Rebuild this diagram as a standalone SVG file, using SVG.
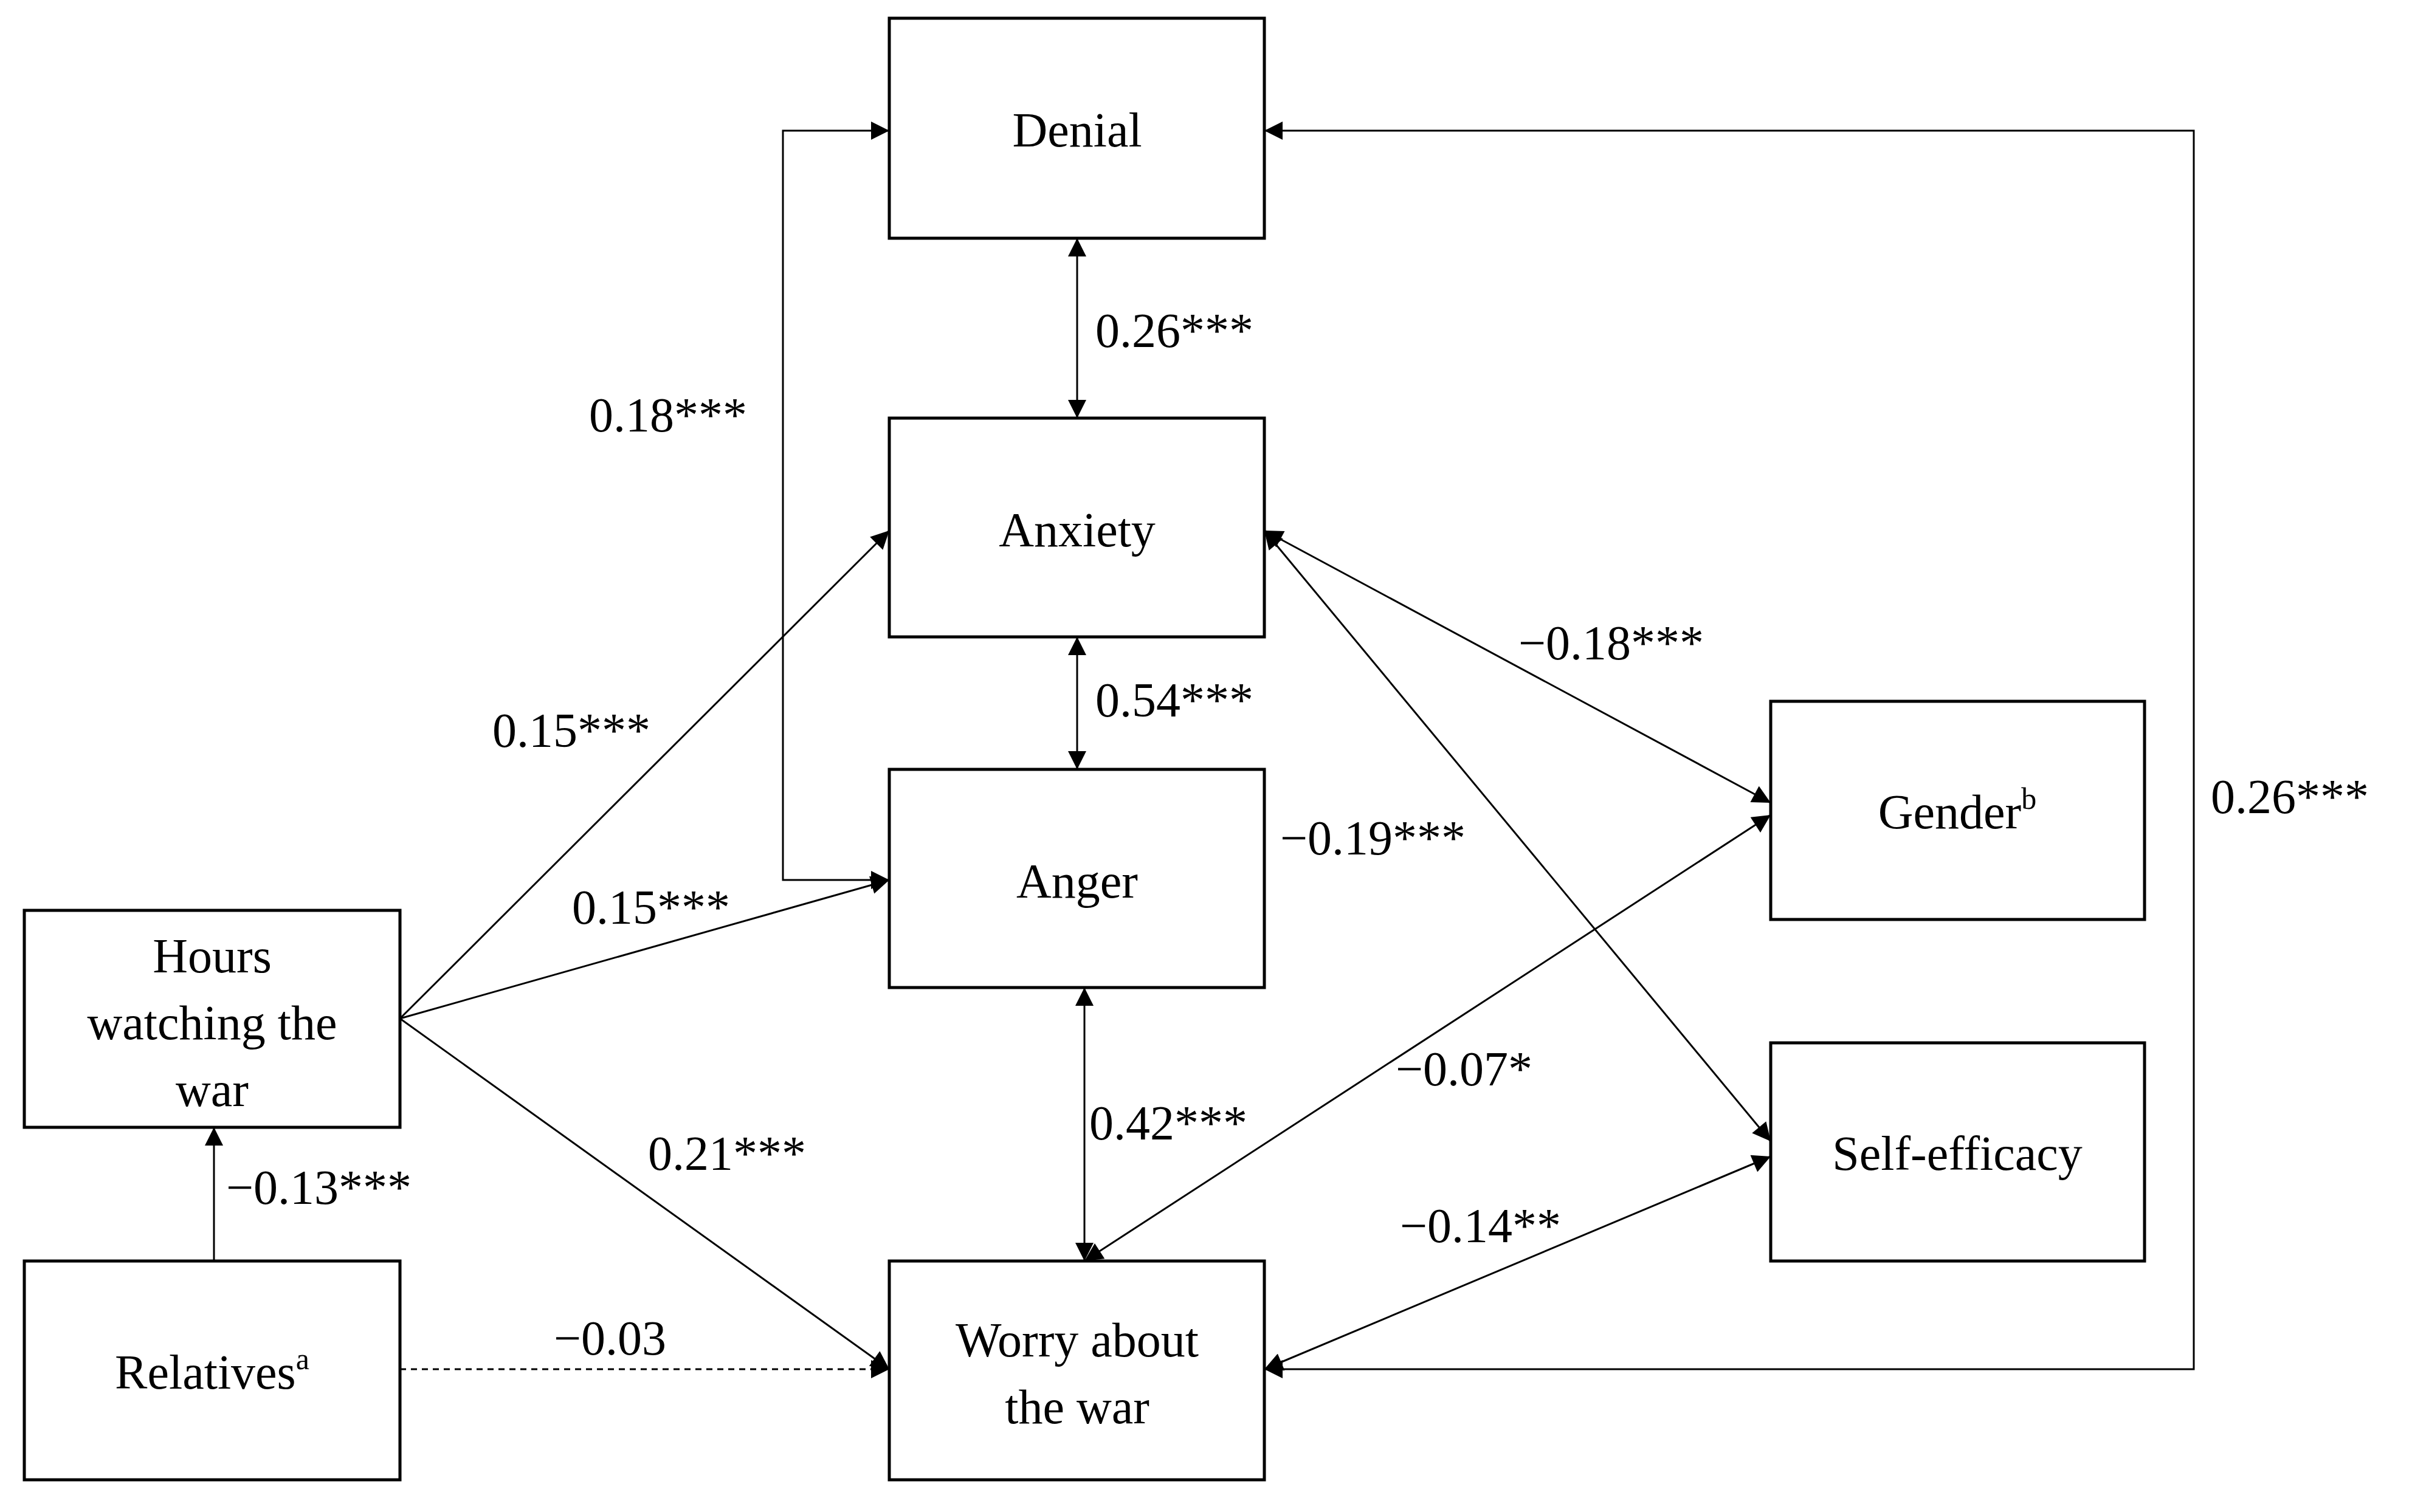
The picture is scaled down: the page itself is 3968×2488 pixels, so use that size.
<svg xmlns="http://www.w3.org/2000/svg" width="3968" height="2488" viewBox="0 0 3968 2488">
<style>
.box{fill:#fff;stroke:#000;stroke-width:5}
.t{font-family:"Liberation Serif","Times New Roman",serif;font-size:80px;fill:#000;dominant-baseline:central}
.c{text-anchor:middle}
.ln{fill:none;stroke:#000;stroke-width:3}
.d{stroke-dasharray:10,8}
</style>
<defs>
<marker id="ah" viewBox="0 0 10 10" refX="10" refY="5" markerWidth="34" markerHeight="30" markerUnits="userSpaceOnUse" orient="auto-start-reverse">
<path d="M0,0 L10,5 L0,10 z" fill="#000"/>
</marker>
</defs>
<rect width="3968" height="2488" fill="#fff"/>
<g id="connectors">
<line class="ln" x1="1772" y1="392" x2="1772" y2="688" marker-start="url(#ah)" marker-end="url(#ah)"/>
<line class="ln" x1="1772" y1="1048" x2="1772" y2="1266" marker-start="url(#ah)" marker-end="url(#ah)"/>
<line class="ln" x1="1784" y1="1625" x2="1784" y2="2075" marker-start="url(#ah)" marker-end="url(#ah)"/>
<polyline class="ln" points="1463,1448 1288,1448 1288,215 1463,215" marker-start="url(#ah)" marker-end="url(#ah)"/>
<line class="ln" x1="658" y1="1676" x2="1463" y2="873" marker-end="url(#ah)"/>
<line class="ln" x1="658" y1="1676" x2="1463" y2="1448" marker-end="url(#ah)"/>
<line class="ln" x1="658" y1="1676" x2="1463" y2="2253" marker-end="url(#ah)"/>
<line class="ln" x1="352" y1="2075" x2="352" y2="1855" marker-end="url(#ah)"/>
<line class="ln d" x1="658" y1="2253" x2="1463" y2="2253" marker-end="url(#ah)"/>
<line class="ln" x1="2080" y1="873" x2="2913" y2="1321" marker-start="url(#ah)" marker-end="url(#ah)"/>
<line class="ln" x1="2080" y1="873" x2="2913" y2="1878" marker-start="url(#ah)" marker-end="url(#ah)"/>
<line class="ln" x1="1784" y1="2075" x2="2913" y2="1341" marker-start="url(#ah)" marker-end="url(#ah)"/>
<line class="ln" x1="2080" y1="2253" x2="2913" y2="1903" marker-start="url(#ah)" marker-end="url(#ah)"/>
<polyline class="ln" points="2080,2253 3609,2253 3609,215 2080,215" marker-start="url(#ah)" marker-end="url(#ah)"/>
</g>
<g id="labels">
<text class="t" x="1802" y="544">0.26***</text>
<text class="t" x="1802" y="1152">0.54***</text>
<text class="t" x="1792" y="1848">0.42***</text>
<text class="t" x="969" y="683">0.18***</text>
<text class="t" x="810" y="1202">0.15***</text>
<text class="t" x="941" y="1493">0.15***</text>
<text class="t" x="1066" y="1898">0.21***</text>
<text class="t" x="372" y="1954">−0.13***</text>
<text class="t" x="911" y="2202">−0.03</text>
<text class="t" x="2498" y="1058">−0.18***</text>
<text class="t" x="2106" y="1379">−0.19***</text>
<text class="t" x="2296" y="1759">−0.07*</text>
<text class="t" x="2303" y="2017">−0.14**</text>
<text class="t" x="3637" y="1311">0.26***</text>
</g>
<g id="denial"><rect class="box" x="1463" y="30" width="617" height="362"/><text class="t c" x="1772" y="214">Denial</text></g>
<g id="anxiety"><rect class="box" x="1463" y="688" width="617" height="360"/><text class="t c" x="1772" y="872">Anxiety</text></g>
<g id="anger"><rect class="box" x="1463" y="1266" width="617" height="359"/><text class="t c" x="1772" y="1450">Anger</text></g>
<g id="worry"><rect class="box" x="1463" y="2075" width="617" height="360"/><text class="t c" x="1772" y="2205">Worry about</text><text class="t c" x="1772" y="2315">the war</text></g>
<g id="hours"><rect class="box" x="40" y="1498" width="618" height="357"/><text class="t c" x="349" y="1573">Hours</text><text class="t c" x="349" y="1683">watching the</text><text class="t c" x="349" y="1793">war</text></g>
<g id="relatives"><rect class="box" x="40" y="2075" width="618" height="360"/><text class="t c" x="349" y="2258">Relatives<tspan font-size="50" dy="-22">a</tspan></text></g>
<g id="gender"><rect class="box" x="2913" y="1154" width="615" height="359"/><text class="t c" x="3220" y="1336">Gender<tspan font-size="50" dy="-22">b</tspan></text></g>
<g id="selfefficacy"><rect class="box" x="2913" y="1716" width="615" height="359"/><text class="t c" x="3220" y="1898">Self-efficacy</text></g>
</svg>
